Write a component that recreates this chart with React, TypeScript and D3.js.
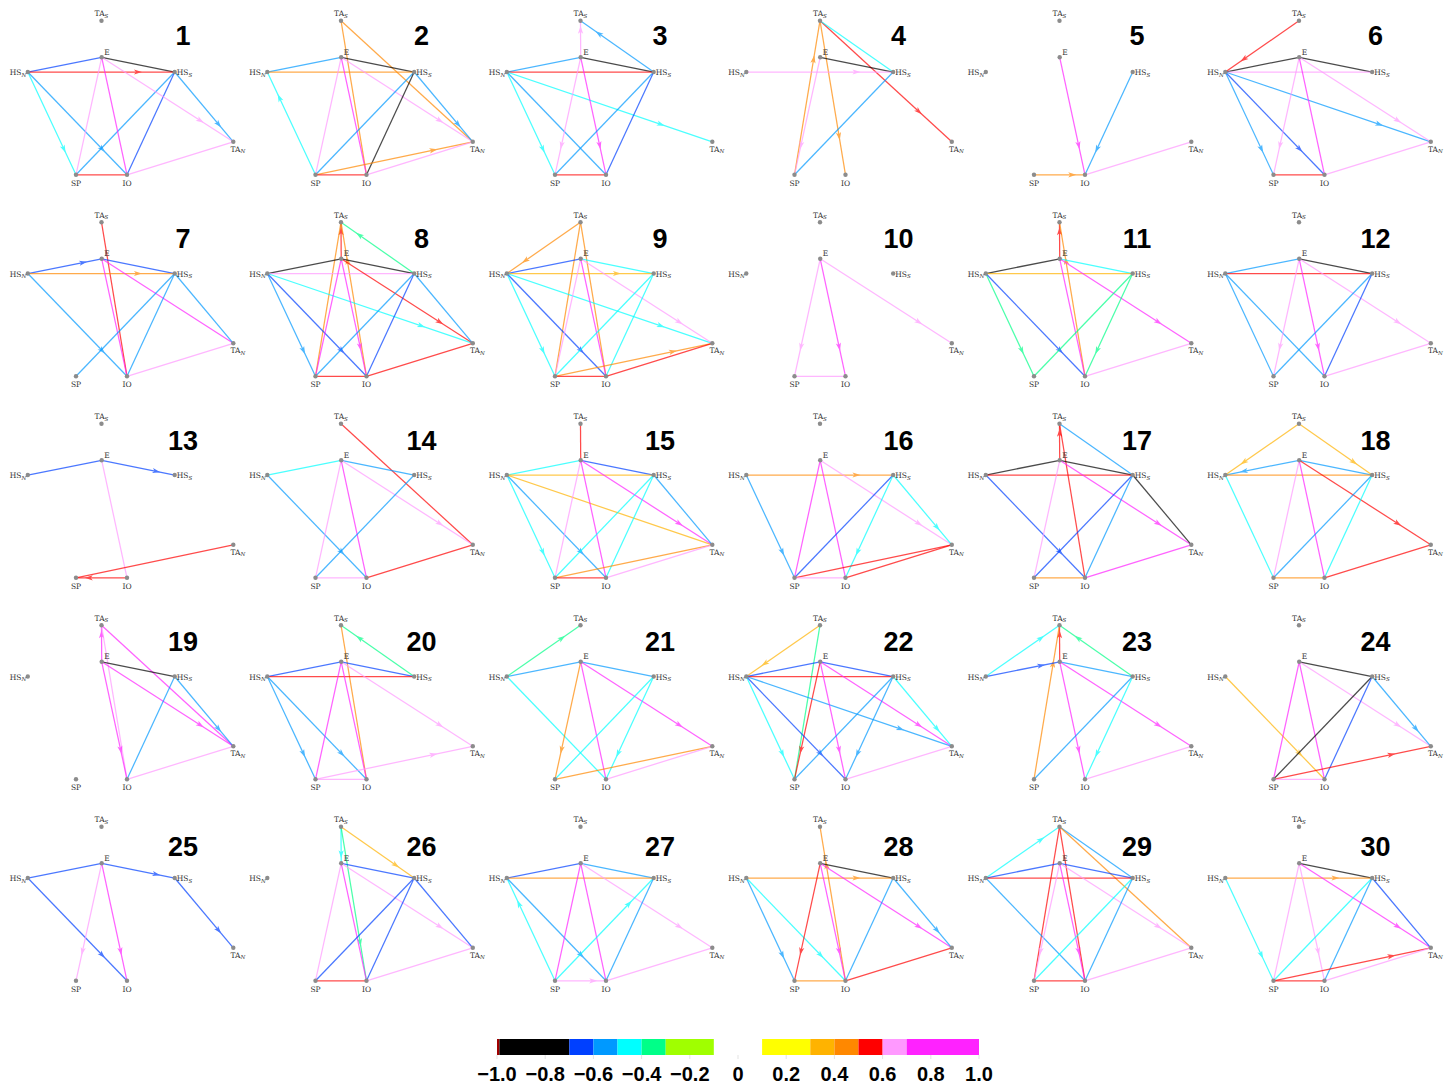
import React from "react";
import * as d3 from "d3";

// Edge: [source, target, value, directed (1 = arrow source -> target)]
type Edge = [string, string, number, number];

const NODE_NAMES = ["TAS", "E", "HSN", "HSS", "TAN", "SP", "IO"];
const NODE_TEXT: Record<string, [string, string]> = {
  TAS: ["TA", "S"], E: ["E", ""], HSN: ["HS", "N"], HSS: ["HS", "S"],
  TAN: ["TA", "N"], SP: ["SP", ""], IO: ["IO", ""],
};

const PANEL_1: Edge[] = [
  ["HSN", "E", -0.65, 0], ["E", "HSS", -0.85, 0], ["HSN", "HSS", 0.55, 1], ["HSN", "SP", -0.45, 1],
  ["HSN", "IO", -0.55, 1], ["HSS", "SP", -0.55, 0], ["HSS", "IO", -0.65, 0], ["HSS", "TAN", -0.55, 1],
  ["E", "TAN", 0.65, 1], ["E", "SP", 0.65, 0], ["E", "IO", 0.85, 0], ["SP", "IO", 0.55, 0], ["IO", "TAN", 0.65, 0],
];
const PANEL_2: Edge[] = [
  ["TAS", "IO", 0.45, 0], ["TAS", "TAN", 0.45, 0], ["HSN", "E", -0.55, 0], ["E", "HSS", -0.85, 0],
  ["HSN", "HSS", 0.45, 0], ["SP", "HSN", -0.45, 1], ["E", "SP", 0.65, 0], ["E", "IO", 0.85, 0],
  ["E", "TAN", 0.65, 1], ["HSS", "SP", -0.55, 0], ["HSS", "IO", -0.85, 0], ["HSS", "TAN", -0.55, 1],
  ["SP", "TAN", 0.45, 1], ["SP", "IO", 0.55, 0], ["IO", "TAN", 0.65, 0],
];
const PANEL_3: Edge[] = [
  ["HSS", "TAS", -0.55, 1], ["E", "TAS", 0.65, 1], ["HSN", "E", -0.55, 0], ["E", "HSS", -0.85, 0],
  ["HSN", "HSS", 0.55, 0], ["HSN", "SP", -0.45, 1], ["HSN", "IO", -0.55, 0], ["HSN", "TAN", -0.45, 1],
  ["E", "SP", 0.65, 1], ["E", "IO", 0.85, 1], ["HSS", "SP", -0.55, 0], ["HSS", "IO", -0.65, 0], ["SP", "IO", 0.55, 0],
];
const PANEL_4: Edge[] = [
  ["TAS", "TAN", 0.55, 1], ["TAS", "HSS", -0.45, 0], ["SP", "TAS", 0.45, 1], ["TAS", "IO", 0.45, 1],
  ["E", "HSS", -0.85, 0], ["HSN", "HSS", 0.65, 1], ["E", "SP", 0.65, 1], ["HSS", "SP", -0.55, 0],
];
const PANEL_5: Edge[] = [
  ["E", "IO", 0.85, 1], ["HSS", "IO", -0.55, 1], ["SP", "IO", 0.45, 1], ["IO", "TAN", 0.65, 0],
];
const PANEL_6: Edge[] = [
  ["TAS", "HSN", 0.55, 1], ["HSN", "E", -0.85, 0], ["E", "HSS", -0.85, 0], ["HSN", "HSS", 0.65, 0],
  ["HSN", "SP", -0.55, 1], ["HSN", "IO", -0.65, 1], ["HSN", "TAN", -0.55, 1], ["E", "SP", 0.65, 1],
  ["E", "IO", 0.85, 0], ["E", "TAN", 0.65, 1], ["SP", "IO", 0.55, 0], ["IO", "TAN", 0.65, 0],
];
const PANEL_7: Edge[] = [
  ["TAS", "IO", 0.55, 0], ["HSN", "E", -0.65, 1], ["E", "HSS", -0.65, 0], ["HSN", "HSS", 0.45, 1],
  ["HSN", "IO", -0.55, 1], ["E", "IO", 0.85, 0], ["E", "TAN", 0.85, 0], ["HSS", "SP", -0.55, 0],
  ["HSS", "IO", -0.55, 0], ["HSS", "TAN", -0.55, 0], ["IO", "TAN", 0.65, 0],
];
const PANEL_8: Edge[] = [
  ["HSS", "TAS", -0.35, 1], ["E", "TAS", 0.55, 1], ["SP", "TAS", 0.45, 0], ["IO", "TAS", 0.45, 1],
  ["HSN", "E", -0.85, 0], ["E", "HSS", -0.85, 0], ["HSN", "HSS", 0.65, 0], ["HSN", "SP", -0.55, 1],
  ["HSN", "IO", -0.65, 1], ["HSN", "TAN", -0.45, 1], ["E", "SP", 0.85, 0], ["E", "IO", 0.85, 1],
  ["E", "TAN", 0.55, 1], ["HSS", "SP", -0.55, 0], ["HSS", "IO", -0.65, 0], ["HSS", "TAN", -0.55, 0],
  ["SP", "IO", 0.55, 0], ["IO", "TAN", 0.55, 0],
];
const PANEL_9: Edge[] = [
  ["TAS", "HSN", 0.45, 1], ["SP", "TAS", 0.45, 0], ["IO", "TAS", 0.45, 0], ["HSN", "E", -0.65, 0],
  ["E", "HSS", -0.45, 0], ["HSN", "HSS", 0.35, 1], ["HSN", "SP", -0.45, 1], ["HSN", "IO", -0.65, 1],
  ["HSN", "TAN", -0.45, 1], ["E", "SP", 0.65, 0], ["E", "IO", 0.85, 0], ["E", "TAN", 0.65, 1],
  ["HSS", "SP", -0.45, 0], ["HSS", "IO", -0.45, 0], ["SP", "TAN", 0.45, 1], ["SP", "IO", 0.55, 0],
  ["IO", "TAN", 0.55, 0],
];
const PANEL_10: Edge[] = [
  ["E", "SP", 0.65, 1], ["E", "IO", 0.85, 1], ["E", "TAN", 0.65, 1], ["SP", "IO", 0.65, 0],
];
const PANEL_11: Edge[] = [
  ["E", "TAS", 0.55, 1], ["IO", "TAS", 0.45, 1], ["HSN", "E", -0.85, 0], ["E", "HSS", -0.45, 0],
  ["HSN", "HSS", 0.35, 0], ["HSN", "SP", -0.35, 1], ["HSN", "IO", -0.65, 1], ["E", "IO", 0.85, 0],
  ["E", "TAN", 0.85, 1], ["HSS", "SP", -0.35, 0], ["HSS", "IO", -0.35, 1], ["IO", "TAN", 0.65, 0],
];
const PANEL_12: Edge[] = [
  ["HSN", "E", -0.55, 0], ["E", "HSS", -0.85, 0], ["HSN", "HSS", 0.55, 0], ["HSN", "SP", -0.55, 0],
  ["HSN", "IO", -0.55, 0], ["E", "SP", 0.65, 1], ["E", "IO", 0.85, 1], ["E", "TAN", 0.65, 1],
  ["HSS", "SP", -0.55, 0], ["HSS", "IO", -0.65, 0], ["IO", "TAN", 0.65, 0],
];
const PANEL_13: Edge[] = [
  ["HSN", "E", -0.65, 0], ["E", "HSS", -0.65, 1], ["E", "IO", 0.65, 0], ["TAN", "SP", 0.55, 0],
  ["IO", "SP", 0.55, 1],
];
const PANEL_14: Edge[] = [
  ["TAS", "TAN", 0.55, 0], ["HSN", "E", -0.45, 0], ["E", "HSS", -0.55, 0], ["HSN", "IO", -0.55, 1],
  ["E", "SP", 0.65, 0], ["E", "IO", 0.85, 0], ["E", "TAN", 0.65, 1], ["HSS", "SP", -0.55, 0],
  ["SP", "IO", 0.65, 0], ["IO", "TAN", 0.55, 0],
];
const PANEL_15: Edge[] = [
  ["TAS", "E", 0.55, 0], ["HSN", "E", -0.45, 0], ["E", "HSS", -0.65, 0], ["HSN", "HSS", 0.35, 0],
  ["HSN", "SP", -0.45, 1], ["HSN", "IO", -0.55, 1], ["HSN", "TAN", 0.35, 0], ["E", "SP", 0.65, 0],
  ["E", "IO", 0.85, 0], ["E", "TAN", 0.85, 1], ["HSS", "SP", -0.45, 0], ["HSS", "IO", -0.45, 0],
  ["HSS", "TAN", -0.55, 0], ["SP", "TAN", 0.45, 0], ["SP", "IO", 0.55, 0], ["IO", "TAN", 0.65, 0],
];
const PANEL_16: Edge[] = [
  ["HSN", "HSS", 0.45, 1], ["HSN", "SP", -0.55, 1], ["E", "SP", 0.85, 0], ["E", "IO", 0.85, 0],
  ["E", "TAN", 0.65, 1], ["HSS", "SP", -0.65, 0], ["HSS", "IO", -0.45, 1], ["HSS", "TAN", -0.45, 1],
  ["SP", "TAN", 0.55, 0], ["IO", "TAN", 0.55, 0], ["SP", "IO", 0.65, 0],
];
const PANEL_17: Edge[] = [
  ["E", "TAS", 0.55, 1], ["IO", "TAS", 0.55, 0], ["TAS", "HSS", -0.55, 0], ["HSN", "E", -0.85, 0],
  ["E", "HSS", -0.85, 0], ["HSN", "HSS", 0.55, 0], ["HSN", "IO", -0.65, 1], ["E", "SP", 0.65, 0],
  ["E", "TAN", 0.85, 1], ["HSS", "SP", -0.65, 0], ["HSS", "IO", -0.55, 0], ["HSS", "TAN", -0.85, 0],
  ["SP", "IO", 0.45, 0], ["IO", "TAN", 0.85, 0],
];
const PANEL_18: Edge[] = [
  ["TAS", "HSN", 0.35, 1], ["TAS", "HSS", 0.35, 1], ["E", "HSN", -0.55, 1], ["E", "HSS", -0.55, 0],
  ["HSN", "HSS", 0.45, 0], ["HSN", "SP", -0.45, 0], ["E", "SP", 0.65, 0], ["E", "IO", 0.85, 0],
  ["E", "TAN", 0.55, 1], ["HSS", "SP", -0.55, 0], ["HSS", "IO", -0.45, 0], ["SP", "IO", 0.45, 0],
  ["IO", "TAN", 0.55, 0],
];
const PANEL_19: Edge[] = [
  ["E", "TAS", 0.85, 1], ["TAS", "TAN", 0.85, 0], ["TAS", "IO", 0.65, 0], ["E", "HSS", -0.85, 0],
  ["E", "IO", 0.85, 1], ["E", "TAN", 0.85, 1], ["HSS", "TAN", -0.55, 1], ["HSS", "IO", -0.55, 0],
  ["IO", "TAN", 0.65, 0],
];
const PANEL_20: Edge[] = [
  ["HSS", "TAS", -0.35, 1], ["TAS", "IO", 0.45, 0], ["HSN", "E", -0.65, 0], ["E", "HSS", -0.65, 0],
  ["HSN", "HSS", 0.55, 0], ["HSN", "SP", -0.55, 1], ["HSN", "IO", -0.55, 1], ["E", "SP", 0.85, 0],
  ["E", "IO", 0.85, 0], ["E", "TAN", 0.65, 1], ["SP", "TAN", 0.65, 1], ["SP", "IO", 0.65, 0],
];
const PANEL_21: Edge[] = [
  ["HSN", "TAS", -0.35, 1], ["HSN", "E", -0.55, 0], ["E", "HSS", -0.55, 0], ["HSN", "IO", -0.45, 0],
  ["E", "SP", 0.45, 1], ["E", "IO", 0.85, 0], ["E", "TAN", 0.85, 1], ["HSS", "SP", -0.45, 0],
  ["HSS", "IO", -0.45, 1], ["SP", "TAN", 0.45, 0], ["IO", "TAN", 0.65, 0],
];
const PANEL_22: Edge[] = [
  ["TAS", "HSN", 0.35, 1], ["TAS", "SP", -0.35, 0], ["HSN", "E", -0.65, 0], ["E", "HSS", -0.65, 0],
  ["HSN", "HSS", 0.55, 0], ["E", "SP", 0.55, 1], ["HSN", "SP", -0.45, 1], ["HSN", "IO", -0.65, 1],
  ["HSN", "TAN", -0.55, 1], ["E", "IO", 0.85, 1], ["E", "TAN", 0.85, 1], ["HSS", "SP", -0.55, 0],
  ["HSS", "IO", -0.55, 1], ["HSS", "TAN", -0.45, 1], ["IO", "TAN", 0.65, 0],
];
const PANEL_23: Edge[] = [
  ["HSN", "TAS", -0.45, 1], ["HSS", "TAS", -0.35, 1], ["E", "TAS", 0.55, 1], ["SP", "TAS", 0.45, 1],
  ["HSN", "E", -0.65, 1], ["E", "HSS", -0.55, 0], ["E", "IO", 0.85, 1], ["E", "TAN", 0.85, 1],
  ["HSS", "SP", -0.55, 0], ["HSS", "IO", -0.45, 1], ["IO", "TAN", 0.65, 0],
];
const PANEL_24: Edge[] = [
  ["HSN", "IO", 0.35, 1], ["E", "HSS", -0.85, 0], ["E", "SP", 0.85, 0], ["E", "IO", 0.85, 0],
  ["E", "TAN", 0.65, 1], ["HSS", "SP", -0.85, 0], ["HSS", "IO", -0.65, 0], ["HSS", "TAN", -0.55, 1],
  ["SP", "TAN", 0.55, 1], ["SP", "IO", 0.65, 0],
];
const PANEL_25: Edge[] = [
  ["HSN", "E", -0.65, 0], ["E", "HSS", -0.65, 1], ["HSN", "IO", -0.65, 1], ["HSS", "TAN", -0.65, 1],
  ["E", "SP", 0.65, 1], ["E", "IO", 0.85, 1],
];
const PANEL_26: Edge[] = [
  ["TAS", "E", -0.45, 1], ["TAS", "HSS", 0.35, 1], ["TAS", "IO", -0.35, 1], ["E", "HSS", -0.65, 0],
  ["E", "SP", 0.65, 0], ["E", "IO", 0.85, 0], ["E", "TAN", 0.65, 1], ["HSS", "SP", -0.65, 0],
  ["HSS", "IO", -0.65, 0], ["HSS", "TAN", -0.65, 0], ["SP", "IO", 0.55, 0], ["IO", "TAN", 0.65, 0],
];
const PANEL_27: Edge[] = [
  ["HSN", "E", -0.65, 0], ["E", "HSS", -0.55, 0], ["HSN", "HSS", 0.45, 0], ["SP", "HSN", -0.45, 1],
  ["HSN", "IO", -0.55, 1], ["E", "SP", 0.85, 0], ["E", "IO", 0.85, 0], ["E", "TAN", 0.65, 1],
  ["SP", "HSS", -0.45, 1], ["HSS", "IO", -0.55, 0], ["SP", "IO", 0.65, 1], ["IO", "TAN", 0.65, 0],
];
const PANEL_28: Edge[] = [
  ["IO", "TAS", 0.45, 1], ["E", "HSS", -0.85, 0], ["HSN", "HSS", 0.45, 1], ["HSN", "SP", -0.55, 1],
  ["HSN", "IO", -0.45, 1], ["E", "SP", 0.55, 1], ["E", "IO", 0.85, 1], ["E", "TAN", 0.85, 1],
  ["HSS", "IO", -0.55, 0], ["HSS", "TAN", -0.55, 1], ["SP", "IO", 0.45, 0], ["IO", "TAN", 0.55, 0],
];
const PANEL_29: Edge[] = [
  ["HSN", "TAS", -0.45, 1], ["TAS", "HSS", -0.55, 0], ["TAS", "TAN", 0.45, 0], ["TAS", "SP", 0.55, 0],
  ["TAS", "IO", 0.55, 0], ["HSN", "E", -0.65, 0], ["E", "HSS", -0.65, 0], ["HSN", "HSS", 0.55, 0],
  ["HSN", "IO", -0.55, 0], ["E", "SP", 0.65, 1], ["E", "IO", 0.85, 1], ["E", "TAN", 0.65, 1],
  ["HSS", "SP", -0.45, 0], ["HSS", "IO", -0.55, 0], ["SP", "IO", 0.55, 0], ["IO", "TAN", 0.65, 0],
];
const PANEL_30: Edge[] = [
  ["E", "HSS", -0.85, 0], ["HSN", "HSS", 0.45, 1], ["HSN", "SP", -0.45, 1], ["E", "SP", 0.65, 0],
  ["E", "IO", 0.65, 1], ["E", "TAN", 0.85, 1], ["HSS", "SP", -0.45, 0], ["HSS", "IO", -0.55, 0],
  ["HSS", "TAN", -0.65, 0], ["SP", "TAN", 0.55, 1], ["SP", "IO", 0.55, 0], ["IO", "TAN", 0.65, 0],
];

const PANELS: Edge[][] = [
  PANEL_1, PANEL_2, PANEL_3, PANEL_4, PANEL_5, PANEL_6,
  PANEL_7, PANEL_8, PANEL_9, PANEL_10, PANEL_11, PANEL_12,
  PANEL_13, PANEL_14, PANEL_15, PANEL_16, PANEL_17, PANEL_18,
  PANEL_19, PANEL_20, PANEL_21, PANEL_22, PANEL_23, PANEL_24,
  PANEL_25, PANEL_26, PANEL_27, PANEL_28, PANEL_29, PANEL_30,
];

// Colour bins of the correlation scale
const COLOR_BREAKS = [-0.99, -0.7, -0.6, -0.5, -0.4, -0.3, -0.1, 0.1, 0.3, 0.4, 0.5, 0.6, 0.7];
const COLOR_RANGE = [
  "#a00000", "#000000", "#0040ff", "#0099ff", "#00ffff", "#00ff88", "#a0ff00",
  "#ffffff", "#ffff00", "#ffb300", "#ff8800", "#ff0000", "#ff99ff", "#ff22ff",
];
const BAR_TICKS = [-1, -0.8, -0.6, -0.4, -0.2, 0, 0.2, 0.4, 0.6, 0.8, 1];

// Graph layout in unit coordinates (x: HS_N..TA_N, y: TA_S..SP)
const LAYOUT: Record<string, [number, number]> = {
  TAS: [0.3586, 0], E: [0.3596, 0.2375], HSN: [0, 0.333], HSS: [0.7148, 0.333],
  TAN: [1, 0.786], SP: [0.2345, 1], IO: [0.4827, 1],
};

const W = 1449;
const H = 1086;
const COLS = 6;
const COL_PITCH = 239.5;
const ROW_PITCH = 201.5;
const NUM_BASE = [45, 46.3, 46.5, 46.7, 50.2];

const color = d3.scaleThreshold<number, string>().domain(COLOR_BREAKS).range(COLOR_RANGE);

function arrowPath(x1: number, y1: number, x2: number, y2: number): string {
  const dx = x2 - x1, dy = y2 - y1;
  const L = Math.hypot(dx, dy);
  const ux = dx / L, uy = dy / L;
  const nx = -uy, ny = ux;
  const d = 0.75 * L + 4;
  const tx = x1 + ux * d, ty = y1 + uy * d;
  const len = 8, hw = 2.6, notch = 6;
  const p = (a: number, b: number) => `${a.toFixed(2)},${b.toFixed(2)}`;
  return `M${p(tx, ty)}L${p(tx - ux * len + nx * hw, ty - uy * len + ny * hw)}L${p(tx - ux * notch, ty - uy * notch)}L${p(tx - ux * len - nx * hw, ty - uy * len - ny * hw)}Z`;
}

function Panel({ edges, index }: { edges: Edge[]; index: number }) {
  const c = index % COLS;
  const r = Math.floor(index / COLS);
  const ox = c * COL_PITCH;
  const oy = r * ROW_PITCH;
  const x = d3.scaleLinear().domain([0, 1]).range([ox + 27.8, ox + 233.3]);
  const y = d3.scaleLinear().domain([0, 1]).range([oy + 20.7, oy + 174.8]);
  const pos = (n: string): [number, number] => [x(LAYOUT[n][0]), y(LAYOUT[n][1])];

  const labelFont = { fontFamily: "'DejaVu Serif', 'Liberation Serif', serif", fontSize: 7.5 };

  const labelFor = (n: string) => {
    const [px, py] = pos(n);
    const [main, sub] = NODE_TEXT[n];
    let lx = px, ly = py, anchor: "start" | "middle" | "end" = "middle";
    if (n === "TAS") { ly = py - 4.5; }
    else if (n === "E") { lx = px + 2.5; ly = py - 2.5; anchor = "start"; }
    else if (n === "HSN") { lx = px - 1.5; ly = py + 3; anchor = "end"; }
    else if (n === "HSS") { lx = px + 2; ly = py + 3; anchor = "start"; }
    else if (n === "TAN") { lx = px + 4.5; ly = py + 10; }
    else { ly = py + 11; }
    return (
      <text key={"l" + n} x={lx} y={ly} textAnchor={anchor} {...labelFont} fill="#333">
        {main}
        {sub && (
          <tspan fontSize={5.5} fontStyle="italic" dy={1.6}>{sub}</tspan>
        )}
      </text>
    );
  };

  return (
    <g>
      {edges.map(([s, t, v, dir], i) => {
        const [x1, y1] = pos(s);
        const [x2, y2] = pos(t);
        const col = color(v);
        return (
          <g key={i} opacity={0.7}>
            <line x1={x1} y1={y1} x2={x2} y2={y2} stroke={col} strokeWidth={1.25} />
            {dir ? <path d={arrowPath(x1, y1, x2, y2)} fill={col} /> : null}
          </g>
        );
      })}
      {NODE_NAMES.map((n) => {
        const [px, py] = pos(n);
        return <circle key={"n" + n} cx={px} cy={py} r={2.2} fill="#8c8c8c" />;
      })}
      {NODE_NAMES.map(labelFor)}
      <text
        x={183 + c * 238.5}
        y={r * ROW_PITCH + NUM_BASE[r]}
        textAnchor="middle"
        fontFamily="'Liberation Sans', Arial, sans-serif"
        fontWeight="bold"
        fontSize={27}
        fill="#000"
      >
        {index + 1}
      </text>
    </g>
  );
}

function ColorBar() {
  const bx = d3.scaleLinear().domain([-1, 1]).range([497, 979]);
  const edges = [-1, ...COLOR_BREAKS, 1];
  const fmt = d3.format(".1f");
  const top = 1039, h = 16;
  return (
    <g>
      {COLOR_RANGE.map((col, i) => (
        <rect key={i} x={bx(edges[i])} y={top} width={bx(edges[i + 1]) - bx(edges[i])} height={h} fill={col} />
      ))}
      {BAR_TICKS.map((t) => (
        <g key={t}>
          <line x1={bx(t)} x2={bx(t)} y1={top + h} y2={top + h + 4} stroke="#dcdcdc" strokeWidth={0.8} />
          <text
            x={bx(t)}
            y={1081}
            textAnchor="middle"
            fontFamily="'Liberation Sans', Arial, sans-serif"
            fontWeight="bold"
            fontSize={20}
            fill="#000"
          >
            {t === 0 ? "0" : fmt(t)}
          </text>
        </g>
      ))}
    </g>
  );
}

export default function App() {
  return (
    <svg
      width={W}
      height={H}
      viewBox={`0 0 ${W} ${H}`}
      style={{ position: "absolute", left: 0, top: 0, background: "#fff" }}
    >
      <rect width={W} height={H} fill="#fff" />
      {PANELS.map((edges, i) => (
        <Panel key={i} edges={edges} index={i} />
      ))}
      <ColorBar />
    </svg>
  );
}
